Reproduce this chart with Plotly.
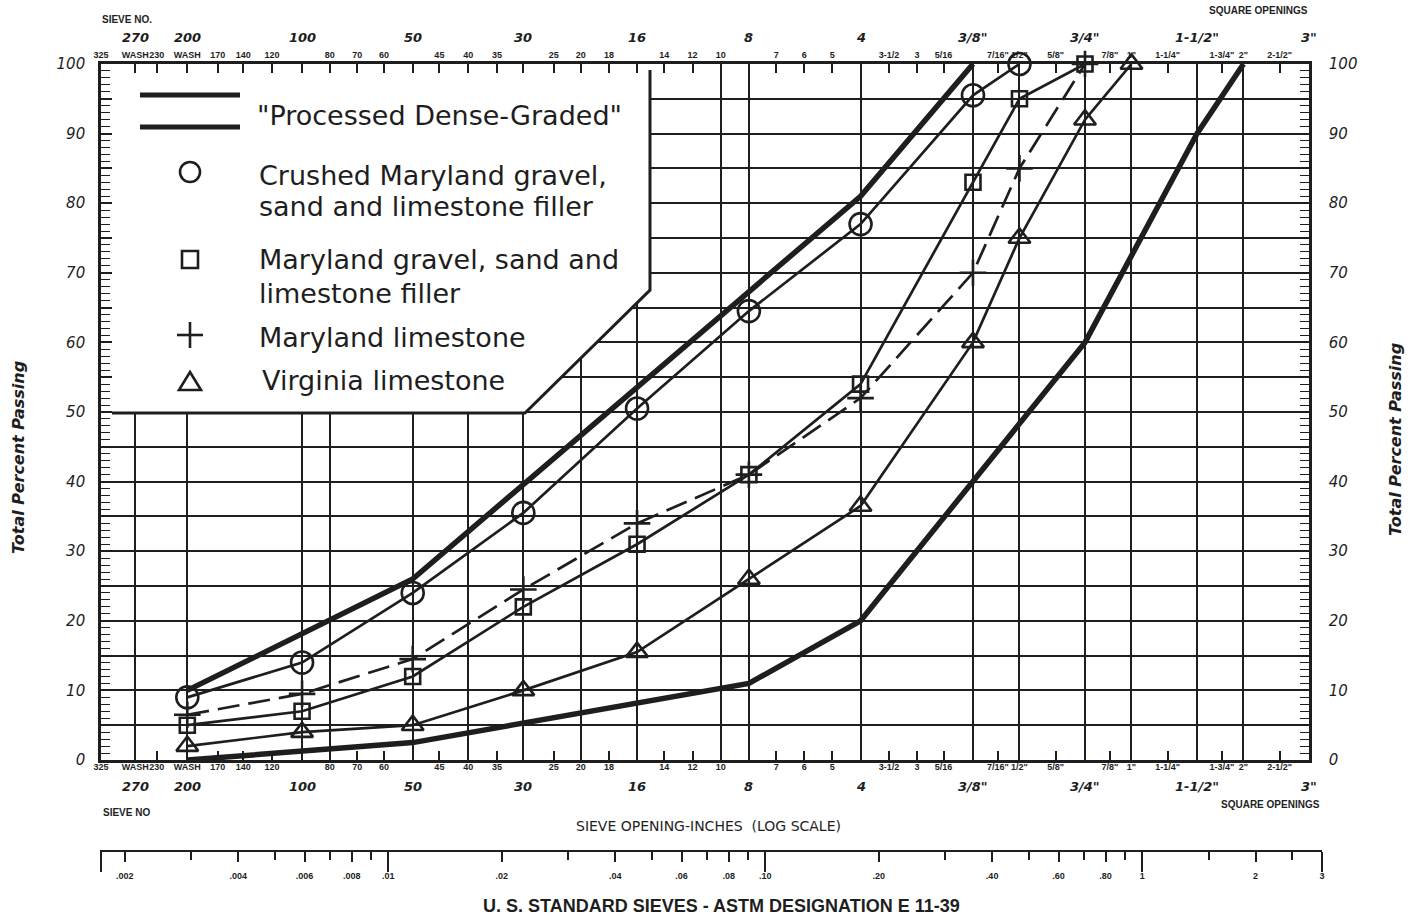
import numpy as np
import plotly.graph_objects as go

W, H = 1415, 920
INK = "#1e1e1e"

# ---------------------------------------------------------------- sieve data
# U.S. standard sieve designations and their openings in inches (ASTM E 11-39)
sieve_names = ["325", "270", "230", "200", "170", "140", "120", "100", "80", "70",
               "60", "50", "45", "40", "35", "30", "25", "20", "18", "16", "14", "12",
               "10", "8", "7", "6", "5", "4", "3-1/2", "3", "5/16", "3/8", "7/16", "1/2",
               "5/8", "3/4", "7/8", "1", "1-1/4", "1-1/2", "1-3/4", "2", "2-1/2", "3"]
sieve_inches = [0.0017, 0.0021, 0.0024, 0.0029, 0.0035, 0.0041, 0.0049, 0.0059, 0.0070,
                0.0083, 0.0098, 0.0117, 0.0138, 0.0165, 0.0197, 0.0232, 0.0280, 0.0331,
                0.0394, 0.0469, 0.0555, 0.0661, 0.0787, 0.0937, 0.111, 0.132, 0.157,
                0.187, 0.223, 0.265, 0.3125, 0.375, 0.4375, 0.5, 0.625, 0.75, 0.875,
                1.0, 1.25, 1.5, 1.75, 2.0, 2.5, 3.0]
# small label row printed along the top and bottom edges
edge_labels = ["325", "WASH", "230", "WASH", "170", "140", "120", "", "80", "70", "60", "",
               "45", "40", "35", "", "25", "20", "18", "", "14", "12", "10", "", "7", "6",
               "5", "", "3-1/2", "3", "5/16", "", "7/16\"", "1/2\"", "5/8\"", "", "7/8\"",
               "1\"", "1-1/4\"", "", "1-3/4\"", "2\"", "2-1/2\"", ""]
# principal sieves (italic row)
principal_names = ["270", "200", "100", "50", "30", "16", "8", "4",
                   "3/8\"", "3/4\"", "1-1/2\"", "3\""]
principal_inches = [0.0021, 0.0029, 0.0059, 0.0117, 0.0232, 0.0469, 0.0937, 0.187,
                    0.375, 0.75, 1.5, 3.0]
# sieves carrying a full-height grid line
grid_inches = [0.0021, 0.0029, 0.0059, 0.0070, 0.0117, 0.0165, 0.0232, 0.0331, 0.0469,
               0.0787, 0.0937, 0.187, 0.375, 0.5, 0.75, 1.0, 1.5, 2.0]

# ---------------------------------------------------------------- gradations
test_sieves = ["200", "100", "50", "30", "16", "8", "4", "3/8\"", "1/2\"", "3/4\"", "1\""]
test_inches = [0.0029, 0.0059, 0.0117, 0.0232, 0.0469, 0.0937, 0.187, 0.375, 0.5, 0.75, 1.0]

crushed_md_gravel = [9, 14, 24, 35.5, 50.5, 64.5, 77, 95.5, 100]
md_gravel_sand = [5, 7, 12, 22, 31, 41, 54, 83, 95, 100]
md_limestone = [6.5, 9.5, 14.5, 24.5, 34, 41, 52, 70, 85, 100]
va_limestone = [2, 4, 5, 10, 15.5, 26, 36.5, 60, 75, 92, 100]

# "Processed Dense-Graded" band limits
upper_inches = [0.0029, 0.0117, 0.187, 0.375]
upper_pass = [10, 26, 81, 100]
lower_inches = [0.0029, 0.0117, 0.0937, 0.187, 0.75, 1.5, 2.0]
lower_pass = [0, 2.5, 11, 20, 60, 90, 100]

# ---------------------------------------------------------------- log ruler
ruler_vals = [0.002, 0.004, 0.006, 0.008, 0.01, 0.02, 0.04, 0.06, 0.08, 0.10,
              0.20, 0.40, 0.60, 0.80, 1, 2, 3]
ruler_text = [".002", ".004", ".006", ".008", ".01", ".02", ".04", ".06", ".08", ".10",
              ".20", ".40", ".60", ".80", "1", "2", "3"]
ruler_minor = [0.003, 0.005, 0.007, 0.009, 0.03, 0.05, 0.07, 0.09,
               0.3, 0.5, 0.7, 0.9, 1.5, 2.5]
ruler_long = [0.00173, 0.01, 0.1, 1, 3]

# ---------------------------------------------------------------- geometry (px)
X0, X1 = 101, 1309          # plot left / right
YT, YB = 64, 760            # 100 % / 0 %
RX0, RX1, RY = 100, 1322, 851
XRANGE = [np.log10(0.0017), np.log10(3.0)]

# outline of the key panel, in pixels (left, top ... bottom-left)
key_outline_px = [(112, YT), (650, YT), (650, 290), (525, 413), (112, 413), (112, YT)]


def fx(p):
    return p / W


def fy(p):
    return 1 - p / H


def px_to_data(px, py):
    """pixel position inside the plot -> (inches, percent) on the chart axes"""
    lx = XRANGE[0] + (px - X0) / (X1 - X0) * (XRANGE[1] - XRANGE[0])
    return 10 ** lx, (YB - py) / (YB - YT) * 100


fig = go.Figure()

# white key panel, drawn first so it hides the grid but stays under the curves
kx, ky = zip(*[px_to_data(a, b) for a, b in key_outline_px])
fig.add_trace(go.Scatter(x=kx, y=ky, mode="lines", fill="toself", fillcolor="white",
                         line=dict(width=0, color="white"), hoverinfo="skip"))

# band limits
for xs, ys in [(upper_inches, upper_pass), (lower_inches, lower_pass)]:
    fig.add_trace(go.Scatter(x=xs, y=ys, mode="lines", line=dict(color=INK, width=5.5),
                             hoverinfo="skip"))

series = [
    ("Crushed Maryland gravel, sand and limestone filler", crushed_md_gravel,
     "circle-open", 22, "solid"),
    ("Maryland gravel, sand and limestone filler", md_gravel_sand,
     "square-open", 15, "solid"),
    ("Maryland limestone", md_limestone, "cross-thin-open", 19, "22px,9px"),
    ("Virginia limestone", va_limestone, "triangle-up-open", 19, "solid"),
]
for name, vals, sym, size, dash in series:
    fig.add_trace(go.Scatter(
        x=test_inches[:len(vals)], y=vals, name=name, mode="lines+markers",
        line=dict(color=INK, width=2.7, dash=dash),
        marker=dict(symbol=sym, size=size, color=INK, line=dict(color=INK, width=2.6)),
        cliponaxis=False,
    ))

# anchors for the extra axes (the ruler gets its own hidden y axis)
for xa, ya in [("x2", "y"), ("x3", "y"), ("x", "y2"), ("x4", "y3"), ("x5", "y3")]:
    fig.add_trace(go.Scatter(x=[0.01], y=[-500], xaxis=xa, yaxis=ya, mode="markers",
                             marker=dict(opacity=0), hoverinfo="skip"))

small_font = dict(family="Liberation Sans, Arial", size=9, color=INK, weight="bold")
ruler_font = dict(family="Liberation Sans, Arial", size=9, color=INK, weight="bold")
ital_font = dict(family="DejaVu Sans", size=15, color=INK, style="italic")
main_x = dict(type="log", range=XRANGE, autorange=False, domain=[fx(X0), fx(X1)],
              zeroline=False, fixedrange=True, automargin=False)
ruler_x = dict(type="log", range=[np.log10(0.00172), np.log10(3.0)], autorange=False,
               domain=[fx(RX0), fx(RX1)], anchor="free", position=fy(RY),
               side="bottom", tickmode="array", showgrid=False, zeroline=False,
               automargin=False, tickcolor=INK, ticks="outside")
ydom = [fy(YB), fy(YT)]
y_ticks = list(range(0, 101, 5))
y_text = [str(v) if v % 10 == 0 else "" for v in y_ticks]
y_common = dict(range=[0, 100], autorange=False, domain=ydom, tickmode="array",
                tickvals=y_ticks, ticktext=y_text, ticks="inside", ticklen=9,
                tickwidth=1.4, tickcolor=INK, showline=True, linecolor=INK,
                linewidth=2.6, zeroline=False, tickfont=ital_font, automargin=False,
                minor=dict(dtick=1, ticks="inside", ticklen=9, tickwidth=1.2,
                           tickcolor=INK, showgrid=False))

fig.update_layout(
    width=W, height=H, autosize=False,
    margin=dict(l=0, r=0, t=0, b=0, pad=0, autoexpand=False),
    paper_bgcolor="white", plot_bgcolor="rgba(0,0,0,0)", showlegend=False,
    xaxis=dict(**main_x, anchor="y", side="bottom", tickmode="array",
               tickvals=grid_inches, showticklabels=False, ticks="",
               showgrid=True, gridcolor=INK, gridwidth=1.6,
               showline=True, linecolor=INK, linewidth=2.6),
    xaxis2=dict(**main_x, anchor="y", overlaying="x", side="top", tickmode="array",
                tickvals=sieve_inches, ticktext=edge_labels, ticks="inside",
                ticklen=9, tickwidth=1.6, tickcolor=INK, showgrid=False, tickangle=0,
                showline=True, linecolor=INK, linewidth=2.6, tickfont=small_font),
    xaxis3=dict(**main_x, anchor="y", overlaying="x", side="bottom", tickmode="array",
                tickvals=sieve_inches, ticktext=edge_labels, ticks="inside",
                ticklen=9, tickwidth=1.6, tickcolor=INK, showgrid=False, tickangle=0,
                showline=False, tickfont=small_font),
    xaxis4=dict(**ruler_x, tickvals=ruler_vals, ticktext=ruler_text, ticklen=10,
                tickwidth=1.5, showline=True, linecolor=INK, linewidth=2,
                tickfont=ruler_font, tickangle=0, ticklabelstandoff=6,
                minor=dict(tickmode="array", tickvals=ruler_minor, ticks="outside",
                           ticklen=8, tickwidth=1.5, tickcolor=INK, showgrid=False)),
    xaxis5=dict(**ruler_x, overlaying="x4", tickvals=ruler_long, ticklen=20,
                tickwidth=2, showticklabels=False, showline=False),
    yaxis=dict(**y_common, anchor="x", side="left", showgrid=True, gridcolor=INK,
               gridwidth=1.6, ticklabelstandoff=10),
    yaxis2=dict(**y_common, anchor="x", overlaying="y", side="right",
                showgrid=False, ticklabelstandoff=14),
    yaxis3=dict(domain=[0, 0.12], range=[0, 1], visible=False, showgrid=False,
                zeroline=False, anchor="x4"),
)

# principal sieve rows (italic) above and below the chart
for v, t in zip(principal_inches, principal_names):
    for py in (37, 786):
        fig.add_annotation(x=np.log10(v), xref="x", y=fy(py), yref="paper", text=t,
                           showarrow=False, xanchor="center", yanchor="middle",
                           font=dict(family="DejaVu Sans", size=13, color=INK,
                                     style="italic", weight="bold"))

texts = [
    ("SIEVE NO.", 100, 19, "left", dict(size=10, weight="bold")),
    ("SQUARE OPENINGS", 1310, 11, "right", dict(size=10, weight="bold")),
    ("SIEVE NO", 101, 812, "left", dict(size=10, weight="bold")),
    ("SQUARE OPENINGS", 1322, 804, "right", dict(size=10, weight="bold")),
]
for t, x, y, anc, f in texts:
    fig.add_annotation(x=fx(x), y=fy(y), xref="paper", yref="paper", text=t,
                       showarrow=False, xanchor=anc, yanchor="middle",
                       font=dict(family="Liberation Sans, Arial", color=INK, **f))

fig.add_annotation(x=fx(708), y=fy(826), xref="paper", yref="paper",
                   text="SIEVE OPENING-INCHES  (LOG SCALE)", showarrow=False,
                   xanchor="center", yanchor="middle",
                   font=dict(family="DejaVu Sans", size=14, color=INK))
fig.add_annotation(x=fx(721), y=fy(906), xref="paper", yref="paper",
                   text="U. S. STANDARD SIEVES - ASTM DESIGNATION E 11-39",
                   showarrow=False, xanchor="center", yanchor="middle",
                   font=dict(family="Liberation Sans", size=18, color=INK, weight="bold"))
for x, y in [(18, 458), (1395, 440)]:
    fig.add_annotation(x=fx(x), y=fy(y), xref="paper", yref="paper",
                       text="Total Percent Passing", textangle=-90, showarrow=False,
                       xanchor="center", yanchor="middle",
                       font=dict(family="DejaVu Sans", size=16, color=INK,
                                 style="italic", weight="bold"))

# ---------------------------------------------------------------- key panel
def P(x, y):
    return f"{fx(x):.5f},{fy(y):.5f}"


fig.add_shape(type="path", xref="paper", yref="paper", layer="above",
              path=f"M{P(650, 70)} L{P(650, 290)} L{P(525, 413)} L{P(112, 413)}",
              line=dict(color=INK, width=3))
for y in (95, 127):
    fig.add_shape(type="line", xref="paper", yref="paper", x0=fx(140), x1=fx(240),
                  y0=fy(y), y1=fy(y), line=dict(color=INK, width=5))
fig.add_shape(type="circle", xref="paper", yref="paper", x0=fx(180), x1=fx(200),
              y0=fy(162), y1=fy(182), line=dict(color=INK, width=2.6))
fig.add_shape(type="rect", xref="paper", yref="paper", x0=fx(182), x1=fx(198),
              y0=fy(251), y1=fy(268), line=dict(color=INK, width=2.6))
fig.add_shape(type="line", xref="paper", yref="paper", x0=fx(177), x1=fx(203),
              y0=fy(335), y1=fy(335), line=dict(color=INK, width=2.6))
fig.add_shape(type="line", xref="paper", yref="paper", x0=fx(190), x1=fx(190),
              y0=fy(322), y1=fy(348), line=dict(color=INK, width=2.6))
fig.add_shape(type="path", xref="paper", yref="paper",
              path=f"M{P(179, 390)} L{P(201, 390)} L{P(190, 372)} Z",
              line=dict(color=INK, width=2.6))

key_text = [
    ("\"Processed Dense-Graded\"", 255, 116),
    ("Crushed Maryland gravel,", 257, 175),
    ("sand and limestone filler", 257, 207),
    ("Maryland gravel, sand and", 257, 260),
    ("limestone filler", 257, 293),
    ("Maryland limestone", 257, 337),
    ("Virginia limestone", 260, 380),
]
for t, x, y in key_text:
    fig.add_annotation(x=fx(x), y=fy(y), xref="paper", yref="paper", text=t,
                       showarrow=False, xanchor="left", yanchor="middle",
                       font=dict(family="DejaVu Sans", size=27, color=INK))

fig.write_html("out.html")
